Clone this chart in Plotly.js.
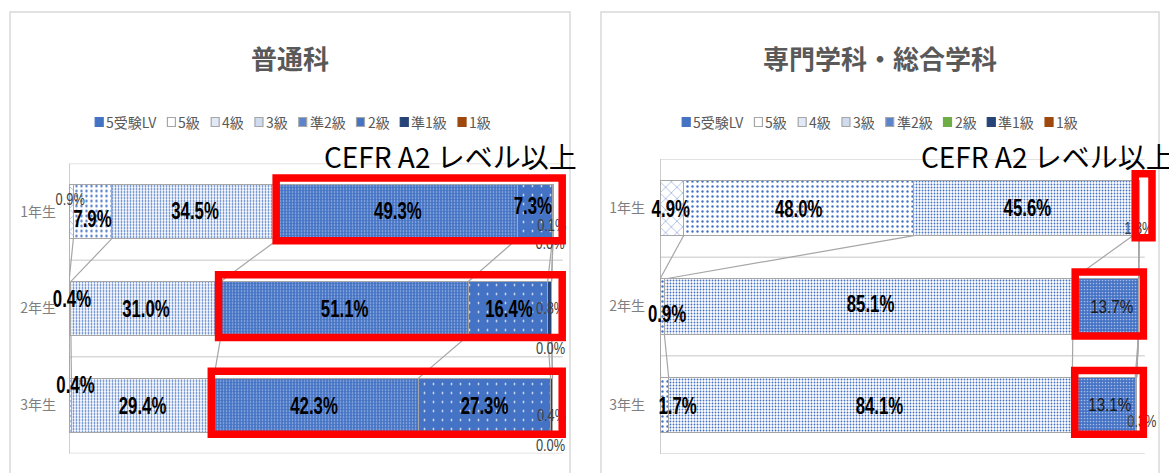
<!DOCTYPE html>
<html><head><meta charset="utf-8">
<script src="https://cdn.plot.ly/plotly-3.0.1.min.js"></script>
<style>html,body{margin:0;padding:0;background:#fff;}#chart{width:1169px;height:473px;}</style>
</head><body><div id="chart"></div>
<script>
// ---------- DATA ----------
const categories = ['1年生', '2年生', '3年生'];
const seriesNames = ['5受験LV', '5級', '4級', '3級', '準2級', '2級', '準1級', '1級'];

// 普通科
const gen_LV   = [0.0, 0.0, 0.0];
const gen_5kyu = [0.9, 0.0, 0.1];
const gen_4kyu = [7.9, 0.4, 0.4];
const gen_3kyu = [34.5, 31.0, 29.4];
const gen_p2   = [49.3, 51.1, 42.3];
const gen_2kyu = [7.3, 16.4, 27.3];
const gen_p1   = [0.1, 0.8, 0.4];
const gen_1kyu = [0.0, 0.0, 0.0];

// 専門学科・総合学科
const voc_LV   = [0.0, 0.0, 0.1];
const voc_5kyu = [4.9, 0.0, 0.0];
const voc_4kyu = [48.0, 0.9, 1.7];
const voc_3kyu = [45.6, 85.1, 84.1];
const voc_p2   = [1.3, 13.7, 13.1];
const voc_2kyu = [0.0, 0.0, 0.3];
const voc_p1   = [0.0, 0.0, 0.0];
const voc_1kyu = [0.0, 0.0, 0.0];

const titles = ['普通科', '専門学科・総合学科'];
const cefrText = 'CEFR A2 レベル以上';

// ---------- STYLE / LAYOUT ----------
const W = 1169, H = 473;
const px = v => v / W;
const py = v => 1 - v / H;
const BLUE = '#4472C4';
const NUMFONT = '"Liberation Sans", "Noto Sans CJK JP", sans-serif';
const CJK = '"Noto Sans CJK JP", "Noto Sans CJK SC", sans-serif';

function makeStyles(twoKyuGreen) {
  return [
    {color: BLUE},
    {color: '#ffffff', pattern: {shape: 'x', fgcolor: BLUE, bgcolor: '#ffffff', size: 8, solidity: 0.1}},
    {color: '#ffffff', pattern: {shape: '.', fgcolor: BLUE, bgcolor: '#ffffff', size: 5, solidity: 0.18}},
    {color: '#ffffff', pattern: {shape: '.', fgcolor: BLUE, bgcolor: '#ffffff', size: 3, solidity: 0.3}},
    {color: BLUE, pattern: {shape: '.', fgcolor: '#A5BBE5', bgcolor: BLUE, size: 3, solidity: 0.25}},
    twoKyuGreen ? {color: '#70AD47'} :
      {color: BLUE, pattern: {shape: '.', fgcolor: '#ffffff', bgcolor: BLUE, size: 9, solidity: 0.03}},
    {color: '#264478'},
    {color: '#9E480E'}
  ];
}
function legendSwatches(twoKyuGreen) {
  return [
    {fill: BLUE, line: BLUE},
    {fill: '#ffffff', line: '#A6A6A6'},
    {fill: '#E2E9F6', line: '#A6A6A6'},
    {fill: '#D0DBF0', line: '#A6A6A6'},
    {fill: '#5B84CC', line: '#A6A6A6'},
    twoKyuGreen ? {fill: '#70AD47', line: '#70AD47'} : {fill: BLUE, line: '#A6A6A6'},
    {fill: '#264478', line: '#264478'},
    {fill: '#9E480E', line: '#9E480E'}
  ];
}

// label spec: [categoryIndex, seriesIndex, dxPx, dyPx, style]
const genLabels = [
  [0,1,-1,-11,'n'],[0,2,0,9,'b'],[0,3,0,1,'b'],[0,4,0,1,'b'],[0,5,-2,-4,'b'],[0,6,-1,15,'n'],[0,7,-3,33,'n'],
  [1,1,-17,29,'n'],[1,2,2,-7,'b'],[1,3,0,3,'b'],[1,4,0,3,'b'],[1,5,1,3,'b'],[1,6,1,1,'n'],[1,7,-1,41,'n'],
  [2,1,-7,30,'n'],[2,2,5,-18,'b'],[2,3,0,3,'b'],[2,4,-2,3,'b'],[2,5,0,3,'b'],[2,6,0,12,'n'],[2,7,-2,42,'n']
];
const vocLabels = [
  [0,1,-1,3,'b'],[0,2,0,3,'b'],[0,3,4,2,'b'],[0,4,3,22,'n'],
  [1,2,5,10,'b'],[1,3,2,0,'b'],[1,4,6,2,'m'],
  [2,0,-9,37,'b'],[2,2,13,3,'b'],[2,3,9,3,'b'],[2,4,6,1,'m'],[2,5,6,18,'n']
];
const labelStyles = {
  b: {size: 23, color: '#000000', weight: 'bold', condense: 0.73},
  n: {size: 16, color: '#404040', weight: 'normal', condense: 0.8},
  m: {size: 19, color: '#1a1a1a', weight: 'normal', condense: 0.8}
};

const charts = [
  {series: [gen_LV, gen_5kyu, gen_4kyu, gen_3kyu, gen_p2, gen_2kyu, gen_p1, gen_1kyu],
   styles: makeStyles(false), swatches: legendSwatches(false), labels: genLabels, title: titles[0],
   xid: 'x', yid: 'y', pxL: 69, ppp: 4.84, xMax: 104, gridEnd: 102, top: 163.5, bottom: 453.5,
   boxL: 10, boxR: 570, center: 290, legendCenter: 293, cefrX: 325,
   redDx: -0.5, redRight: [101.9, 101.9, 101.9], tickStandoff: 12},
  {series: [voc_LV, voc_5kyu, voc_4kyu, voc_3kyu, voc_p2, voc_2kyu, voc_p1, voc_1kyu],
   styles: makeStyles(true), swatches: legendSwatches(true), labels: vocLabels, title: titles[1],
   xid: 'x2', yid: 'y2', pxL: 660, ppp: 4.8, xMax: 105, gridEnd: 101, top: 159, bottom: 454,
   boxL: 601, boxR: 1159, center: 880, legendCenter: 880, cefrX: 922,
   redDx: 0.5, redRight: [102.5, 100.7, 100.7], tickStandoff: 14}
];

const BAR_W = 0.56;
const RED_TOP = -0.35, RED_BOT = 0.30;
const catIdx = categories.map((c, i) => i);

const ctx = document.createElement('canvas').getContext('2d');
ctx.font = '14px "Noto Sans CJK JP"';

const traces = [];
const condenseByTrace = [];
const shapes = [];
const annotations = [];
const layout = {
  width: W, height: H, margin: {l: 0, r: 0, t: 0, b: 0},
  paper_bgcolor: '#ffffff', plot_bgcolor: 'rgba(0,0,0,0)',
  barmode: 'stack', showlegend: false, bargap: 0
};

charts.forEach((ch, ci) => {
  const n = categories.length;
  const before = [], after = [];
  for (let c = 0; c < n; c++) {
    let s = 0; before[c] = []; after[c] = [];
    ch.series.forEach((arr, k) => { before[c][k] = s; s += arr[c]; after[c][k] = s; });
  }
  const catPx = (ch.bottom - ch.top) / n;

  // bars
  ch.series.forEach((arr, k) => {
    const st = ch.styles[k];
    const marker = {color: st.color, line: {color: '#A6A6A6', width: 1}};
    if (st.pattern) marker.pattern = Object.assign({fillmode: 'replace'}, st.pattern);
    traces.push({
      type: 'bar', orientation: 'h', name: seriesNames[k],
      x: arr, y: catIdx, width: BAR_W,
      xaxis: ch.xid, yaxis: ch.yid, marker: marker, hoverinfo: 'skip'
    });
  });

  // labels
  ['b', 'n', 'm'].forEach(sty => {
    const xs = [], ys = [], ts = [];
    ch.labels.filter(l => l[4] === sty).forEach(l => {
      const [c, k, dx, dy] = l;
      const v = ch.series[k][c];
      xs.push(before[c][k] + v / 2 + dx / ch.ppp);
      ys.push(c + dy / catPx);
      ts.push(v.toFixed(1) + '%');
    });
    if (!xs.length) return;
    const fs = labelStyles[sty];
    traces.push({
      type: 'scatter', mode: 'text', x: xs, y: ys, text: ts,
      textposition: 'middle center', cliponaxis: false, hoverinfo: 'skip',
      textfont: {family: NUMFONT, size: fs.size, color: fs.color, weight: fs.weight},
      xaxis: ch.xid, yaxis: ch.yid
    });
    condenseByTrace.push(fs.condense);
  });

  // axes
  const xName = ch.xid === 'x' ? 'xaxis' : 'xaxis2';
  const yName = ch.yid === 'y' ? 'yaxis' : 'yaxis2';
  layout[xName] = {
    domain: [px(ch.pxL), px(ch.pxL + ch.ppp * ch.xMax)], range: [0, ch.xMax],
    visible: false, fixedrange: true, anchor: ch.yid
  };
  layout[yName] = {
    domain: [py(ch.bottom), py(ch.top)], range: [n - 0.5, -0.5],
    tickvals: catIdx, ticktext: categories, ticks: '', showgrid: false, zeroline: false,
    showline: false, fixedrange: true, anchor: ch.xid, ticklabelstandoff: ch.tickStandoff,
    tickfont: {family: CJK, size: 14, color: '#7F7F7F'}
  };

  // category boundary lines
  for (let b = -0.5; b <= n - 0.5; b += 1) {
    shapes.push({type: 'line', xref: ch.xid, yref: ch.yid, x0: 0, x1: ch.gridEnd, y0: b, y1: b,
      line: {color: '#D9D9D9', width: 1.5}, layer: 'below'});
  }
  shapes.push({type: 'line', xref: ch.xid, yref: ch.yid, x0: 0, x1: 0, y0: -0.5, y1: n - 0.5,
    line: {color: '#BFBFBF', width: 1.5}, layer: 'below'});

  // series lines
  for (let c = 0; c < n - 1; c++) {
    for (let k = 0; k < ch.series.length; k++) {
      shapes.push({type: 'line', xref: ch.xid, yref: ch.yid,
        x0: after[c][k], y0: c + BAR_W / 2, x1: after[c + 1][k], y1: c + 1 - BAR_W / 2,
        line: {color: '#A6A6A6', width: 1.2}, layer: 'below'});
    }
  }

  // red boxes (準2級 and above)
  for (let c = 0; c < n; c++) {
    shapes.push({type: 'rect', xref: ch.xid, yref: ch.yid,
      x0: before[c][4] + ch.redDx, x1: ch.redRight[c], y0: c + RED_TOP, y1: c + RED_BOT,
      line: {color: '#FF0000', width: 7.5}, fillcolor: 'rgba(0,0,0,0)', layer: 'above'});
  }

  // chart border
  shapes.push({type: 'rect', xref: 'paper', yref: 'paper',
    x0: px(ch.boxL), x1: px(ch.boxR), y0: py(490), y1: py(12),
    line: {color: '#D9D9D9', width: 1.5}, fillcolor: 'rgba(0,0,0,0)', layer: 'below'});

  // title
  annotations.push({xref: 'paper', yref: 'paper', x: px(ch.center), y: py(57),
    xanchor: 'center', yanchor: 'middle', showarrow: false, text: '<b>' + ch.title + '</b>',
    font: {family: CJK, size: 26, color: '#595959'}});

  // CEFR note
  annotations.push({xref: 'paper', yref: 'paper', x: px(ch.cefrX - 3), y: py(156),
    xanchor: 'left', yanchor: 'middle', showarrow: false, text: cefrText,
    font: {family: CJK, size: 28, color: '#000000'}});

  // legend (manual, compact like the original)
  const SW = 8, GAP1 = 3, GAP2 = 11;
  const widths = seriesNames.map(t => ctx.measureText(t).width);
  const total = widths.reduce((a, w) => a + SW + GAP1 + w + GAP2, 0) - GAP2;
  let xc = ch.legendCenter - total / 2;
  const ly = 122;
  seriesNames.forEach((t, k) => {
    const sw = ch.swatches[k];
    shapes.push({type: 'rect', xref: 'paper', yref: 'paper',
      x0: px(xc), x1: px(xc + SW), y0: py(ly + 4.5), y1: py(ly - 4.5),
      fillcolor: sw.fill, line: {color: sw.line, width: 1.2}, layer: 'above'});
    annotations.push({xref: 'paper', yref: 'paper', x: px(xc + SW + GAP1 - 2), y: py(ly),
      xanchor: 'left', yanchor: 'middle', showarrow: false, text: t,
      font: {family: CJK, size: 14, color: '#595959'}});
    xc += SW + GAP1 + widths[k] + GAP2;
  });
});

layout.shapes = shapes;
layout.annotations = annotations;

Plotly.newPlot('chart', traces, layout, {displayModeBar: false, staticPlot: true}).then(gd => {
  // narrow the data-label glyphs to mimic the condensed label font of the original
  const textTraces = gd.querySelectorAll('.scatterlayer .trace');
  textTraces.forEach((tr, i) => {
    const f = condenseByTrace[i] || 0.8;
    tr.querySelectorAll('g.textpoint text').forEach(t => {
      const w = t.getComputedTextLength();
      if (w > 0) {
        t.setAttribute('textLength', (w * f).toFixed(1));
        t.setAttribute('lengthAdjust', 'spacingAndGlyphs');
      }
    });
  });
});
</script>
</body></html>
